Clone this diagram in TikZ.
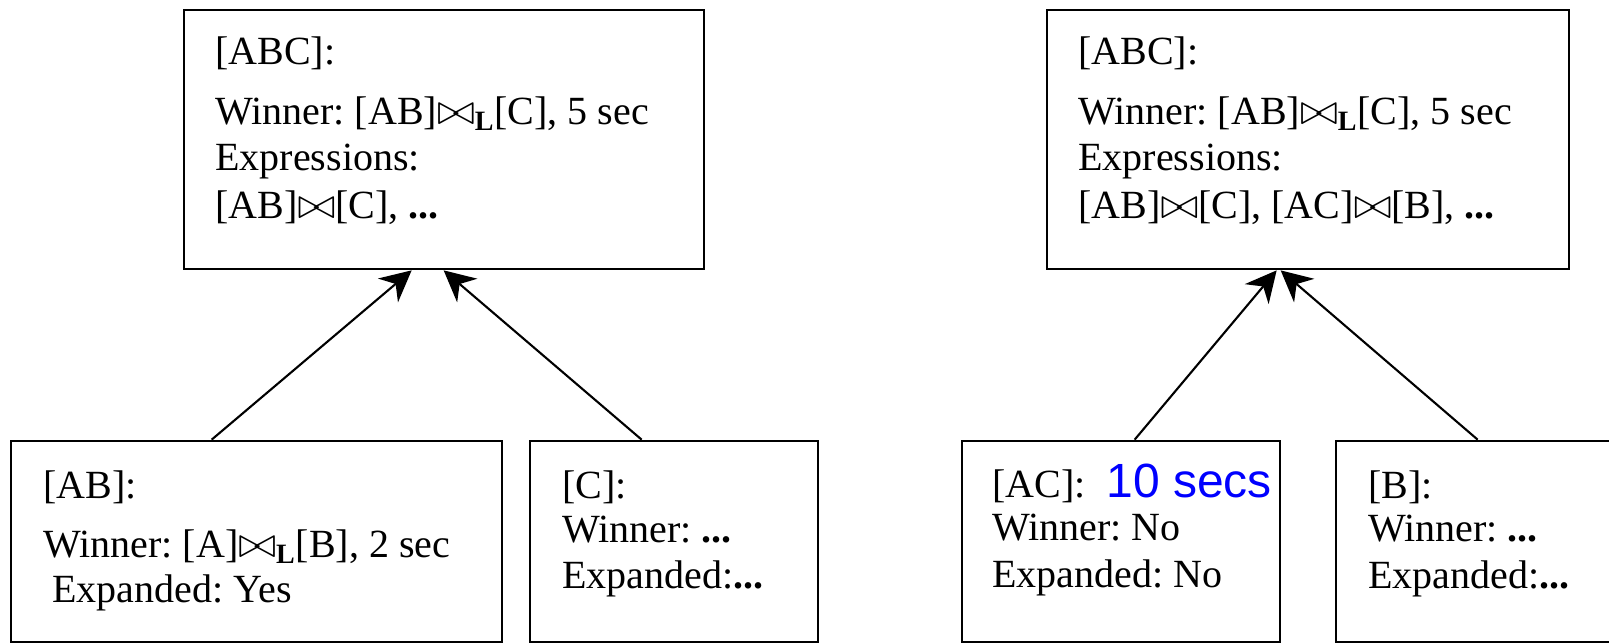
\documentclass[tikz,border=0pt]{standalone}
\usepackage{fontspec}
\setmainfont{Liberation Serif}
\newfontfamily\labelsans{Liberation Sans}
\usetikzlibrary{arrows.meta}
\frenchspacing
\newcommand{\jsym}{\scalebox{1.12}[1.05]{$\mathord{\bowtie}$}}
\newcommand{\ljoin}{\jsym\ensuremath{_{\mathbf{L}}}}
\newcommand{\pjoin}{\jsym}
\newcommand{\etc}{\textbf{...}}
\begin{document}
\begin{tikzpicture}[x=0.5pt,y=-0.5pt,
  memo/.style={draw=black, line width=1.35pt, rectangle, inner sep=0pt},
  txt/.style={anchor=base west, inner sep=0pt, font=\fontsize{20}{23}\selectfont},
  costnote/.style={anchor=base west, inner sep=0pt, text=blue, font=\labelsans\fontsize{24}{28}\selectfont},
  link/.style={line width=1.05pt, -{Stealth[length=15.5pt, width=15.5pt, inset=5pt]}}]
\useasboundingbox (0,0) rectangle (1609,643);

% left memo tree
\node[memo, minimum width=260pt, minimum height=129.5pt] (abcL) at (444,139.5) {};
\node[memo, minimum width=245.5pt, minimum height=100.5pt] (ab) at (256.5,541.5) {};
\node[memo, minimum width=144pt, minimum height=100.5pt] (c) at (674,541.5) {};

\node[txt] (abcL1) at (215,64) {[ABC]:};
\node[txt] (abcL2) at (215,124) {Winner: [AB]\ljoin[C], 5 sec};
\node[txt] (abcL3) at (215,170) {Expressions:};
\node[txt] (abcL4) at (215,218) {[AB]\pjoin[C], \etc};

\node[txt] (ab1) at (43,498) {[AB]:};
\node[txt] (ab2) at (43,557) {Winner: [A]\ljoin[B], 2 sec};
\node[txt] (ab3) at (52,602) {Expanded: Yes};

\node[txt] (c1) at (562,498) {[C]:};
\node[txt] (c2) at (562,542) {Winner: \etc};
\node[txt] (c3) at (562,588) {Expanded:\etc};

\draw[link] ([xshift=101pt]ab.north west) -- ([xshift=114.5pt]abcL.south west);
\draw[link] ([xshift=56.5pt]c.north west) -- ([xshift=130.5pt]abcL.south west);

% right memo tree
\node[memo, minimum width=261pt, minimum height=129.5pt] (abcR) at (1308,139.5) {};
\node[memo, minimum width=159pt, minimum height=100.5pt] (ac) at (1121,541.5) {};
\node[memo, minimum width=138pt, minimum height=100.5pt] (b) at (1474,541.5) {};

\node[txt] (abcR1) at (1078,64) {[ABC]:};
\node[txt] (abcR2) at (1078,124) {Winner: [AB]\ljoin[C], 5 sec};
\node[txt] (abcR3) at (1078,170) {Expressions:};
\node[txt] (abcR4) at (1078,218) {[AB]\pjoin[C], [AC]\pjoin[B], \etc};

\node[txt] (ac1) at (992,497) {[AC]:};
\node[costnote] (accost) at (1106,497) {10 secs};
\node[txt] (ac2) at (992,540) {Winner: No};
\node[txt] (ac3) at (992,587) {Expanded: No};

\node[txt] (b1) at (1368,498) {[B]:};
\node[txt] (b2) at (1368,541) {Winner: \etc};
\node[txt] (b3) at (1368,588) {Expanded:\etc};

\draw[link] ([xshift=87pt]ac.north west) -- ([xshift=115.5pt]abcR.south west);
\draw[link] ([xshift=71.5pt]b.north west) -- ([xshift=117.5pt]abcR.south west);
\end{tikzpicture}
\end{document}
